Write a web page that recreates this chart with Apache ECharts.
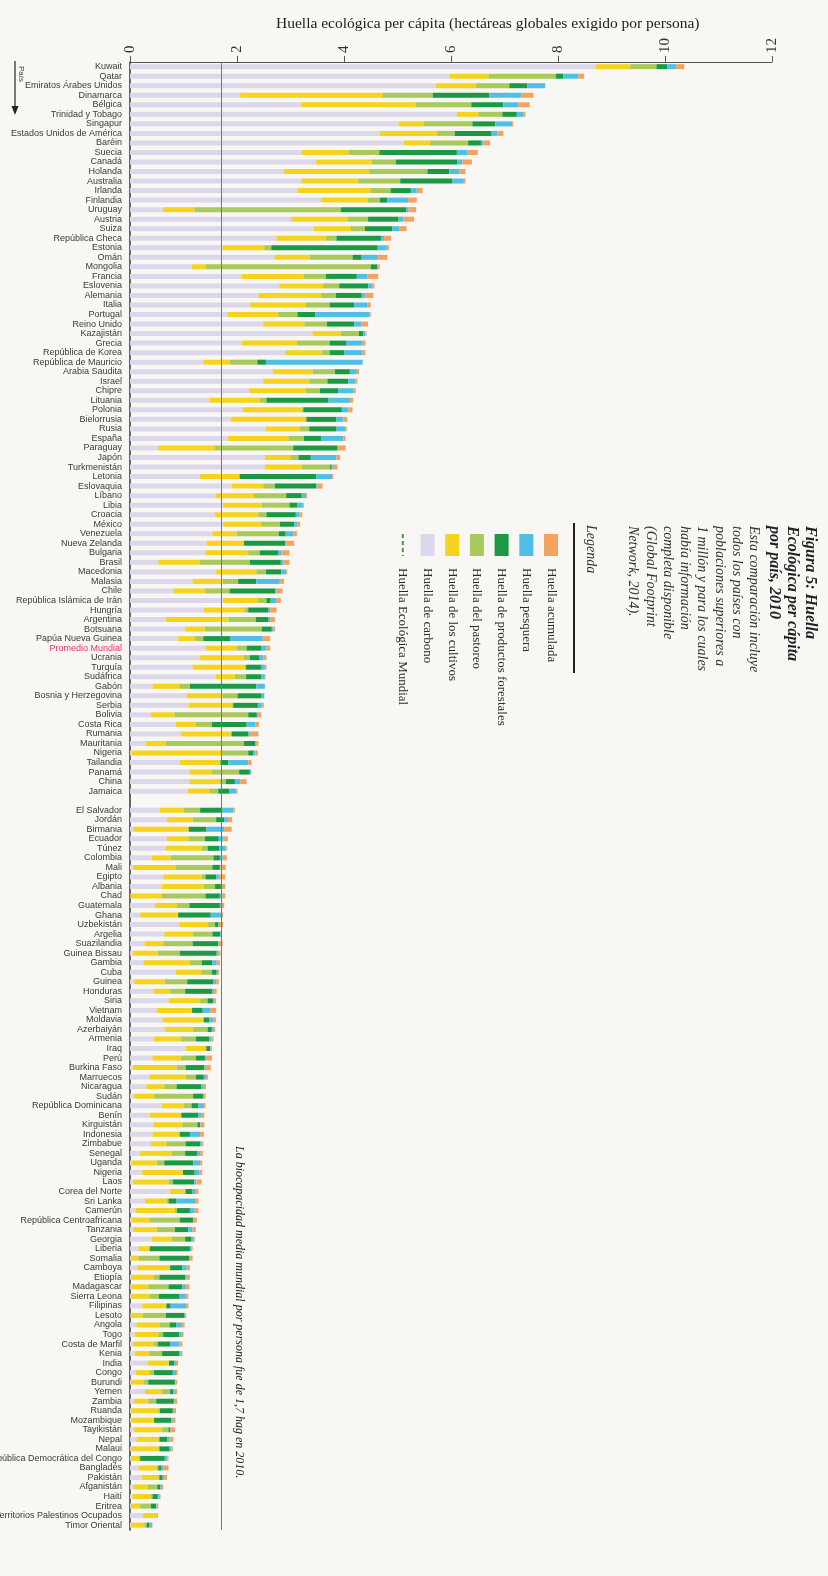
<!DOCTYPE html>
<html>
<head>
<meta charset="utf-8">
<script src="https://cdn.jsdelivr.net/npm/echarts@6.0.0/dist/echarts.min.js"></script>
<style>
html,body{margin:0;padding:0;background:#f8f7f3;}
#chart{width:828px;height:1576px;}
</style>
</head>
<body>
<div id="chart"></div>
<script>
// ---------------- DATA ----------------
const countries = [
'Kuwait','Qatar','Emiratos Árabes Unidos','Dinamarca','Bélgica','Trinidad y Tobago','Singapur','Estados Unidos de América','Baréin','Suecia',
'Canadá','Holanda','Australia','Irlanda','Finlandia','Uruguay','Austria','Suiza','República Checa','Estonia',
'Omán','Mongolia','Francia','Eslovenia','Alemania','Italia','Portugal','Reino Unido','Kazajistán','Grecia',
'República de Korea','República de Mauricio','Arabia Saudita','Israel','Chipre','Lituania','Polonia','Bielorrusia','Rusia','España',
'Paraguay','Japón','Turkmenistán','Letonia','Eslovaquia','Líbano','Libia','Croacia','México','Venezuela',
'Nueva Zelanda','Bulgaria','Brasil','Macedonia','Malasia','Chile','República Islámica de Irán','Hungría','Argentina','Botsuana',
'Papúa Nueva Guinea','Promedio Mundial','Ucrania','Turquía','Sudáfrica','Gabón','Bosnia y Herzegovina','Serbia','Bolivia','Costa Rica',
'Rumania','Mauritania','Nigeria','Tailandia','Panamá','China','Jamaica','El Salvador','Jordán','Birmania',
'Ecuador','Túnez','Colombia','Mali','Egipto','Albania','Chad','Guatemala','Ghana','Uzbekistán',
'Argelia','Suazilandia','Guinea Bissau','Gambia','Cuba','Guinea','Honduras','Siria','Vietnam','Moldavia',
'Azerbaiyán','Armenia','Iraq','Perú','Burkina Faso','Marruecos','Nicaragua','Sudán','República Dominicana','Benín',
'Kirguistán','Indonesia','Zimbabue','Senegal','Uganda','Nigeria','Laos','Corea del Norte','Sri Lanka','Camerún',
'República Centroafricana','Tanzania','Georgia','Liberia','Somalia','Camboya','Etiopía','Madagascar','Sierra Leona','Filipinas',
'Lesoto','Angola','Togo','Costa de Marfil','Kenia','India','Congo','Burundi','Yemen','Zambia',
'Ruanda','Mozambique','Tayikistán','Nepal','Malaui','República Democrática del Congo','Bangladés','Pakistán','Afganistán','Haití',
'Eritrea','Territorios Palestinos Ocupados','Timor Oriental'];

const carbono = [
8.70,5.97,5.72,2.06,3.19,6.11,5.02,4.67,5.12,3.21,
3.48,2.87,3.20,3.13,3.57,0.62,3.01,3.44,2.74,1.73,
2.70,1.15,2.09,2.79,2.40,2.24,1.82,2.49,3.41,2.09,
2.90,1.37,2.67,2.49,2.23,1.48,2.11,1.88,2.54,1.82,
0.53,2.52,2.52,1.31,1.90,1.61,1.74,1.58,1.74,1.54,
1.43,1.41,0.53,1.61,1.17,0.81,1.74,1.38,0.67,1.03,
0.90,1.41,1.31,1.17,1.60,0.42,1.06,1.09,0.39,0.86,
0.95,0.29,0.03,0.93,1.11,1.11,1.08,0.55,0.69,0.06,
0.69,0.67,0.40,0.06,0.62,0.60,0.01,0.47,0.19,0.92,
0.64,0.27,0.05,0.25,0.86,0.08,0.44,0.72,0.50,0.61,
0.65,0.45,1.04,0.42,0.05,0.36,0.31,0.08,0.59,0.37,
0.44,0.42,0.39,0.19,0.03,0.23,0.06,0.74,0.28,0.11,
0.03,0.06,0.40,0.16,0.02,0.14,0.02,0.02,0.02,0.23,
0.01,0.12,0.09,0.05,0.09,0.33,0.11,0.02,0.28,0.08,
0.02,0.02,0.08,0.12,0.02,0.02,0.16,0.22,0.06,0.05,
0.02,0.24,0.02];

const cultivos = [
0.65,0.73,0.75,2.66,2.15,0.40,0.47,1.07,0.49,0.87,
1.04,1.60,1.07,1.37,0.88,0.59,1.06,0.69,0.92,0.78,
0.66,0.27,1.16,0.82,1.17,1.05,0.95,0.77,0.53,1.03,
0.68,0.50,0.74,0.86,1.06,0.95,1.10,1.39,0.63,1.14,
1.06,0.49,0.69,0.73,0.59,0.70,0.72,0.82,0.71,0.45,
0.69,0.80,0.77,0.75,0.56,0.59,0.65,0.76,1.17,0.37,
0.31,0.58,0.81,0.98,0.36,0.50,0.67,0.82,0.44,0.37,
0.93,0.38,1.68,0.75,0.42,0.57,0.40,0.45,0.48,1.03,
0.40,0.67,0.36,0.80,0.72,0.78,0.58,0.41,0.70,0.54,
0.54,0.35,0.47,0.87,0.47,0.57,0.31,0.59,0.65,0.75,
0.53,0.50,0.36,0.53,0.82,0.68,0.33,0.37,0.42,0.58,
0.54,0.50,0.30,0.59,0.47,0.75,0.66,0.28,0.41,0.73,
0.33,0.44,0.38,0.20,0.14,0.60,0.42,0.32,0.34,0.44,
0.23,0.44,0.44,0.39,0.27,0.39,0.25,0.23,0.32,0.26,
0.51,0.42,0.52,0.41,0.51,0.15,0.34,0.31,0.27,0.34,
0.17,0.26,0.25];

const pastoreo = [
0.49,1.26,0.62,0.94,1.04,0.45,0.91,0.33,0.71,0.58,
0.45,1.09,0.78,0.37,0.22,2.73,0.38,0.26,0.20,0.13,
0.80,3.08,0.41,0.30,0.28,0.44,0.36,0.42,0.34,0.61,
0.15,0.51,0.42,0.34,0.26,0.12,0.03,0.03,0.18,0.29,
1.46,0.14,0.53,0.01,0.22,0.61,0.52,0.15,0.35,0.79,
0.01,0.22,0.94,0.18,0.29,0.46,0.16,0.07,0.51,1.06,
0.16,0.19,0.12,0.02,0.21,0.20,0.28,0.02,1.38,0.30,
0.02,1.46,0.50,0.01,0.51,0.11,0.17,0.31,0.44,0.01,
0.31,0.11,0.80,0.68,0.07,0.21,0.82,0.23,0.01,0.13,
0.36,0.55,0.41,0.22,0.20,0.42,0.28,0.14,0.01,0.02,
0.27,0.28,0.03,0.28,0.17,0.19,0.23,0.73,0.14,0.01,
0.28,0.01,0.35,0.25,0.14,0.01,0.08,0.02,0.03,0.04,
0.57,0.34,0.25,0.01,0.39,0.01,0.11,0.38,0.18,0.01,
0.43,0.18,0.09,0.08,0.24,0.01,0.09,0.09,0.15,0.15,
0.03,0.01,0.12,0.02,0.02,0.02,0.03,0.02,0.18,0.03,
0.20,0.00,0.04];

const forestales = [
0.20,0.14,0.34,1.06,0.60,0.27,0.43,0.69,0.24,1.45,
1.15,0.41,0.98,0.38,0.14,1.22,0.57,0.51,0.83,1.99,
0.17,0.12,0.58,0.54,0.48,0.46,0.33,0.51,0.08,0.32,
0.28,0.16,0.28,0.39,0.34,1.16,0.72,0.56,0.51,0.33,
0.83,0.23,0.03,1.43,0.77,0.29,0.15,0.55,0.27,0.13,
0.77,0.34,0.58,0.29,0.34,0.86,0.08,0.38,0.24,0.19,
0.50,0.28,0.18,0.29,0.28,1.24,0.45,0.46,0.16,0.65,
0.31,0.21,0.10,0.15,0.20,0.17,0.21,0.42,0.15,0.33,
0.26,0.22,0.12,0.14,0.20,0.11,0.27,0.57,0.61,0.06,
0.15,0.48,0.69,0.20,0.09,0.49,0.51,0.10,0.20,0.10,
0.08,0.25,0.07,0.17,0.35,0.15,0.46,0.19,0.13,0.32,
0.05,0.19,0.27,0.23,0.54,0.22,0.40,0.13,0.15,0.24,
0.25,0.25,0.12,0.75,0.56,0.23,0.48,0.26,0.39,0.08,
0.35,0.13,0.30,0.23,0.32,0.10,0.35,0.50,0.06,0.33,
0.24,0.32,0.03,0.15,0.19,0.46,0.06,0.06,0.06,0.10,
0.10,0.00,0.05];

const pesquera = [
0.17,0.28,0.33,0.60,0.28,0.13,0.31,0.11,0.04,0.20,
0.09,0.19,0.21,0.11,0.39,0.04,0.09,0.13,0.06,0.17,
0.30,0.02,0.20,0.08,0.06,0.25,1.01,0.13,0.04,0.30,
0.34,1.81,0.13,0.13,0.28,0.40,0.12,0.13,0.16,0.41,
0.01,0.48,0.02,0.30,0.02,0.08,0.10,0.07,0.06,0.14,
0.02,0.06,0.05,0.09,0.44,0.02,0.11,0.03,0.03,0.03,
0.61,0.09,0.07,0.06,0.07,0.16,0.05,0.06,0.03,0.16,
0.04,0.02,0.03,0.37,0.02,0.10,0.13,0.20,0.07,0.33,
0.08,0.12,0.05,0.01,0.05,0.02,0.02,0.02,0.19,0.03,
0.01,0.01,0.03,0.08,0.03,0.05,0.03,0.03,0.14,0.08,
0.02,0.04,0.01,0.03,0.01,0.04,0.05,0.01,0.10,0.05,
0.01,0.19,0.03,0.05,0.13,0.09,0.04,0.06,0.36,0.09,
0.01,0.08,0.03,0.03,0.01,0.08,0.03,0.07,0.12,0.29,
0.01,0.10,0.05,0.17,0.03,0.03,0.06,0.01,0.03,0.01,
0.02,0.03,0.01,0.04,0.03,0.05,0.03,0.03,0.01,0.02,
0.01,0.00,0.05];

const acumulada = [
0.15,0.11,0.00,0.22,0.21,0.03,0.02,0.11,0.13,0.19,
0.18,0.11,0.03,0.11,0.16,0.15,0.20,0.14,0.13,0.04,
0.18,0.03,0.20,0.04,0.16,0.06,0.03,0.13,0.02,0.05,
0.05,0.00,0.04,0.04,0.05,0.06,0.08,0.07,0.03,0.04,
0.14,0.07,0.09,0.02,0.10,0.02,0.02,0.05,0.05,0.07,
0.15,0.15,0.11,0.02,0.08,0.11,0.08,0.12,0.09,0.03,
0.14,0.07,0.06,0.03,0.01,0.00,0.00,0.05,0.05,0.07,
0.15,0.04,0.05,0.06,0.01,0.12,0.02,0.03,0.08,0.14,
0.09,0.02,0.08,0.10,0.12,0.06,0.08,0.06,0.04,0.06,
0.01,0.07,0.04,0.06,0.02,0.05,0.05,0.03,0.11,0.05,
0.04,0.04,0.02,0.10,0.11,0.04,0.04,0.03,0.03,0.06,
0.07,0.07,0.03,0.05,0.04,0.05,0.10,0.05,0.05,0.07,
0.06,0.06,0.03,0.02,0.05,0.06,0.06,0.06,0.04,0.04,
0.02,0.05,0.03,0.06,0.03,0.04,0.03,0.03,0.04,0.05,
0.04,0.05,0.08,0.07,0.03,0.02,0.10,0.05,0.04,0.03,
0.03,0.02,0.01];

const xTicks = [0, 2, 4, 6, 8, 10, 12];
const BIOCAPACIDAD = 1.7;
const GAP_AFTER = 'Jamaica';
const HIGHLIGHT = 'Promedio Mundial';

const seriesNames = ['Huella de carbono','Huella de los cultivos','Huella del pastoreo','Huella de productos forestales','Huella pesquera','Huella acumulada'];
const seriesData = [carbono, cultivos, pastoreo, forestales, pesquera, acumulada];
const colors = ['#dcd7ea','#f6d31c','#a9c95b','#1b9944','#4fbfe8','#f3a35e'];

const titleText = 'Huella ecológica per cápita (hectáreas globales exigido por persona)';
const figTitle = ['Figura 5: Huella','Ecológica per cápita','por país, 2010'];
const figBody = ['Esta comparación incluye','todos los países con','poblaciones superiores a','1 millón y para los cuales','había información','completa disponible','(Global Footprint','Network, 2014).'];
const noteText = 'La biocapacidad media mundial por persona fue de 1,7 hag en 2010.';
const legendItems = ['Huella acumulada','Huella pesquera','Huella de productos forestales','Huella del pastoreo','Huella de los cultivos','Huella de carbono','Huella Ecológica Mundial'];

// ---------------- BUILD ----------------
const gapIdx = countries.indexOf(GAP_AFTER) + 1;
function withGap(arr, filler) { return arr.slice(0, gapIdx).concat([filler], arr.slice(gapIdx)); }
const cats = withGap(countries, '');

const series = seriesData.map((d, i) => ({
  type: 'bar', name: seriesNames[i], stack: 'total', barWidth: 5,
  data: withGap(d, '-'), itemStyle: { color: colors[i] }, silent: true
}));
series[series.length - 1].markLine = {
  silent: true, symbol: ['none', 'none'], label: { show: false },
  lineStyle: { color: '#4f9155', width: 1, type: 'solid' },
  data: [{ xAxis: BIOCAPACIDAD }]
};

const R = -Math.PI / 2;
const SERIF = '"Liberation Serif", "DejaVu Serif", serif';
const SANS = '"Liberation Sans", Arial, sans-serif';

function txt(x, y, text, font, fill) {
  return { type: 'text', x: x, y: y, style: { text: text, font: font, fill: fill || '#2a2a2a', align: 'left', textAlign: 'left', verticalAlign: 'middle', textVerticalAlign: 'middle' } };
}

const legendChildren = [];
const titleV = [10, 28, 46];
figTitle.forEach((t, i) => legendChildren.push(txt(6, titleV[i], t, 'italic bold 16px ' + SERIF, '#222')));
figBody.forEach((t, i) => legendChildren.push(txt(6, 66 + i * 17.3, t, 'italic 14px ' + SERIF, '#333')));
legendChildren.push(txt(5, 229, 'Legenda', 'italic 14px ' + SERIF, '#333'));
legendChildren.push({ type: 'line', shape: { x1: 3, y1: 246, x2: 153, y2: 246 }, style: { stroke: '#222', lineWidth: 2 } });
const swatchColors = [colors[5], colors[4], colors[3], colors[2], colors[1], colors[0]];
legendItems.forEach((t, i) => {
  const v = 269 + i * 24.7;
  if (i < 6) {
    legendChildren.push({ type: 'rect', shape: { x: 14, y: v - 7, width: 22, height: 14 }, style: { fill: swatchColors[i] } });
  } else {
    legendChildren.push({ type: 'line', shape: { x1: 14, y1: v, x2: 36, y2: v }, style: { stroke: '#3f9a4c', lineWidth: 2, lineDash: [4, 3] } });
  }
  legendChildren.push(txt(48, v, t, '13px ' + SERIF, '#2a2a2a'));
});

const chart = echarts.init(document.getElementById('chart'), null, { renderer: 'canvas' });
chart.setOption({
  animation: false,
  backgroundColor: '#f8f7f3',
  title: { text: titleText, left: 271, top: 11, textStyle: { fontFamily: SERIF, fontSize: 15.5, fontWeight: 'normal', color: '#222' } },
  grid: { left: 130, right: 56, top: 61.9, height: 1468, containLabel: false, outerBoundsMode: 'none' },
  xAxis: {
    type: 'value', position: 'top', min: 0, max: 12, interval: 2,
    axisLine: { show: true, lineStyle: { color: '#555', width: 1 } },
    axisTick: { show: true, length: 6, lineStyle: { color: '#555' } },
    splitLine: { show: false },
    axisLabel: { rotate: -90, fontSize: 15, color: '#333', fontFamily: SERIF, margin: 9,
      formatter: v => xTicks.indexOf(v) >= 0 ? String(v) : '' }
  },
  yAxis: {
    type: 'category', inverse: true, data: cats,
    axisLine: { show: true, onZero: false, lineStyle: { color: '#333', width: 1.5 } },
    axisTick: { show: false },
    splitLine: { show: false },
    axisLabel: { interval: 0, fontSize: 9, fontFamily: SANS, margin: 8,
      color: (v) => v === HIGHLIGHT ? '#e2336f' : '#3a3a3a' }
  },
  graphic: [
    { type: 'line', shape: { x1: 15, y1: 61, x2: 15, y2: 108 }, style: { stroke: '#222', lineWidth: 1.2 } },
    { type: 'polygon', shape: { points: [[11.5, 106], [18.5, 106], [15, 115]] }, style: { fill: '#222' } },
    { type: 'text', x: 21.5, y: 66, rotation: R, style: { text: 'País', font: '8px ' + SANS, fill: '#444', align: 'left', textAlign: 'left', verticalAlign: 'middle', textVerticalAlign: 'middle' } },
    { type: 'text', x: 239, y: 1146, rotation: R, style: { text: noteText, font: 'italic 12px ' + SERIF, fill: '#222', align: 'left', textAlign: 'left', verticalAlign: 'middle', textVerticalAlign: 'middle' } },
    { type: 'group', x: 820, y: 520, rotation: R, children: legendChildren }
  ],
  series: series
});
</script>
</body>
</html>
